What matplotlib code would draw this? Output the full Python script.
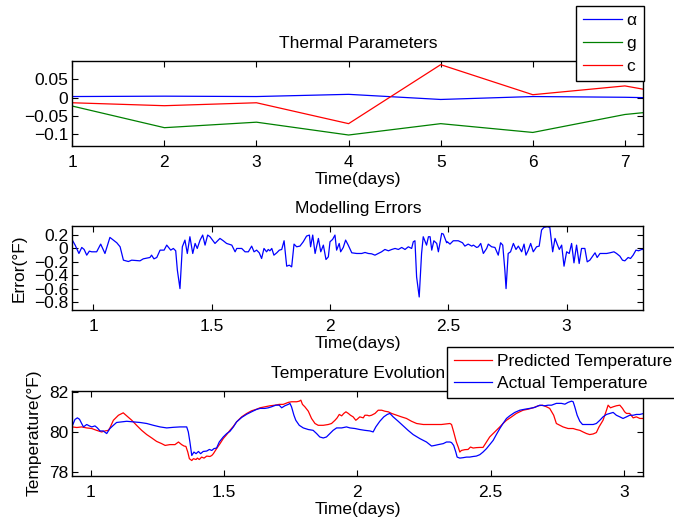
import matplotlib
matplotlib.use("Agg")
import matplotlib.pyplot as plt

plt.rcParams['font.family'] = ['Liberation Sans', 'DejaVu Sans']
plt.rcParams['font.size'] = 12.5

# --- Thermal parameters (per day) ---
dias = [1, 2, 3, 4, 5, 6, 7, 7.2]
alpha = [0.003, 0.004, 0.003, 0.009, -0.005, 0.003, 0.001, 0.0]
g = [-0.023, -0.082, -0.067, -0.102, -0.071, -0.095, -0.046, -0.041]
c = [-0.014, -0.022, -0.014, -0.071, 0.090, 0.008, 0.032, 0.023]

# --- Modelling errors ---
t_err = [0.911, 0.923, 0.939, 0.951, 0.961, 0.972, 0.983, 0.993, 1.014, 1.031,
         1.049, 1.070, 1.099, 1.113, 1.127, 1.148, 1.162, 1.197, 1.211, 1.239,
         1.246, 1.256, 1.268, 1.282, 1.299, 1.310, 1.327, 1.338, 1.348, 1.355,
         1.366, 1.376, 1.387, 1.397, 1.408, 1.420, 1.430, 1.439, 1.451, 1.462,
         1.472, 1.483, 1.493, 1.514, 1.535, 1.549, 1.563, 1.585, 1.599, 1.606,
         1.627, 1.641, 1.655, 1.669, 1.679, 1.690, 1.701, 1.711, 1.721, 1.732,
         1.739, 1.746, 1.754, 1.763, 1.775, 1.786, 1.796, 1.806, 1.817, 1.828,
         1.838, 1.848, 1.859, 1.873, 1.887, 1.901, 1.913, 1.918, 1.927, 1.937,
         1.951, 1.961, 1.972, 1.983, 1.993, 2.000, 2.011, 2.021, 2.028, 2.039,
         2.045, 2.056, 2.066, 2.077, 2.092, 2.113, 2.134, 2.148, 2.162, 2.176,
         2.190, 2.204, 2.218, 2.232, 2.247, 2.261, 2.275, 2.289, 2.303, 2.317,
         2.331, 2.345, 2.352, 2.359, 2.366, 2.377, 2.387, 2.394, 2.408, 2.416,
         2.423, 2.430, 2.439, 2.451, 2.458, 2.472, 2.479, 2.493, 2.496, 2.507,
         2.521, 2.542, 2.560, 2.570, 2.584, 2.599, 2.606, 2.620, 2.627, 2.637,
         2.648, 2.662, 2.669, 2.683, 2.697, 2.711, 2.721, 2.730, 2.739, 2.744,
         2.753, 2.763, 2.775, 2.786, 2.796, 2.810, 2.820, 2.828, 2.838, 2.848,
         2.859, 2.873, 2.884, 2.894, 2.904, 2.918, 2.929, 2.941, 2.951, 2.960,
         2.969, 2.979, 2.989, 3.000, 3.011, 3.021, 3.031, 3.042, 3.053, 3.063,
         3.077, 3.087, 3.098, 3.110, 3.120, 3.129, 3.141, 3.155, 3.169, 3.183,
         3.200, 3.211, 3.225, 3.236, 3.246, 3.260, 3.270, 3.281, 3.293, 3.304,
         3.317, 3.327]
error = [0.125, 0.05, -0.075, 0.015, -0.015, -0.10, -0.04, -0.05, -0.05, 0.065,
         -0.075, 0.165, 0.085, 0.025, -0.175, -0.195, -0.175, -0.185, -0.155, -0.135,
         -0.10, -0.155, -0.135, -0.025, -0.025, 0.05, -0.025, 0.0, -0.035, -0.325,
         -0.60, 0.025, 0.125, -0.075, 0.175, -0.075, 0.075, 0.0, 0.125, 0.20,
         0.05, 0.20, 0.175, 0.075, 0.15, 0.115, 0.075, 0.05, -0.05, 0.0,
         0.0, -0.05, -0.05, 0.035, -0.05, -0.025, -0.065, -0.15, 0.0, -0.05,
         -0.015, -0.035, 0.0, -0.10, -0.065, -0.025, -0.015, 0.115, -0.265, -0.25,
         -0.275, 0.065, 0.025, 0.035, 0.10, 0.185, 0.20, 0.025, 0.20, -0.075,
         0.15, -0.05, 0.05, -0.165, -0.125, 0.10, 0.135, 0.20, -0.025, 0.075,
         -0.05, 0.015, 0.125, 0.05, -0.065, -0.075, -0.075, -0.06, -0.075, -0.08,
         -0.10, -0.075, -0.05, -0.015, -0.035, -0.015, 0.0, -0.015, 0.015, -0.015,
         0.025, 0.0, 0.10, 0.115, -0.425, -0.725, -0.075, 0.175, 0.05, 0.175,
         0.175, -0.025, 0.115, 0.075, -0.05, 0.225, 0.215, 0.085, 0.10, 0.065,
         0.115, 0.115, 0.085, 0.035, 0.065, 0.035, 0.05, 0.015, 0.025, 0.075,
         -0.075, 0.0, 0.065, 0.025, 0.015, -0.10, 0.085, 0.05, -0.325, -0.60,
         -0.075, -0.05, 0.075, -0.015, 0.035, -0.05, 0.065, -0.10, -0.025, 0.075,
         -0.05, 0.025, 0.035, 0.275, 0.315, 0.325, 0.315, -0.05, 0.15, 0.065,
         -0.015, 0.05, -0.265, -0.05, -0.075, 0.075, -0.215, 0.05, -0.225, 0.0,
         0.0, -0.20, -0.175, -0.115, -0.065, -0.135, -0.075, -0.075, -0.075, -0.065,
         -0.05, -0.075, -0.115, -0.175, -0.185, -0.135, -0.15, -0.10, -0.025, -0.035,
         -0.015, -0.015]

# --- Temperature evolution ---
t_pred = [0.931, 0.948, 0.966, 0.985, 1.004, 1.022, 1.041, 1.054, 1.066, 1.072,
          1.085, 1.104, 1.122, 1.135, 1.154, 1.172, 1.191, 1.210, 1.229, 1.247,
          1.266, 1.279, 1.297, 1.316, 1.329, 1.341, 1.350, 1.357, 1.364, 1.370,
          1.379, 1.385, 1.395, 1.400, 1.407, 1.416, 1.425, 1.435, 1.447, 1.454,
          1.460, 1.472, 1.485, 1.497, 1.510, 1.522, 1.535, 1.547, 1.566, 1.585,
          1.603, 1.622, 1.635, 1.653, 1.672, 1.691, 1.707, 1.722, 1.732, 1.741,
          1.753, 1.772, 1.782, 1.788, 1.794, 1.803, 1.816, 1.828, 1.841, 1.853,
          1.872, 1.891, 1.903, 1.916, 1.924, 1.932, 1.941, 1.949, 1.957, 1.966,
          1.974, 1.984, 1.994, 1.999, 2.009, 2.022, 2.028, 2.037, 2.044, 2.053,
          2.066, 2.078, 2.091, 2.103, 2.116, 2.128, 2.147, 2.165, 2.184, 2.203,
          2.222, 2.247, 2.272, 2.297, 2.315, 2.334, 2.347, 2.353, 2.361, 2.371,
          2.378, 2.384, 2.390, 2.403, 2.415, 2.424, 2.434, 2.446, 2.459, 2.471,
          2.484, 2.496, 2.509, 2.521, 2.534, 2.546, 2.559, 2.578, 2.596, 2.621,
          2.640, 2.659, 2.678, 2.694, 2.709, 2.721, 2.736, 2.746, 2.759, 2.771,
          2.790, 2.809, 2.821, 2.834, 2.846, 2.859, 2.871, 2.884, 2.896, 2.906,
          2.921, 2.934, 2.940, 2.949, 2.959, 2.971, 2.984, 2.994, 3.002, 3.009,
          3.021, 3.034, 3.046, 3.059, 3.074]
temp_pred = [80.25, 80.22, 80.25, 80.20, 80.17, 80.08, 80.00, 80.05, 80.08, 80.20,
             80.58, 80.83, 80.95, 80.80, 80.58, 80.33, 80.08, 79.87, 79.70, 79.53,
             79.42, 79.33, 79.37, 79.37, 79.50, 79.37, 79.30, 79.28, 79.00, 78.67,
             78.58, 78.67, 78.63, 78.70, 78.63, 78.75, 78.70, 78.80, 78.78, 78.83,
             78.92, 79.17, 79.42, 79.67, 79.87, 80.08, 80.28, 80.50, 80.75, 80.92,
             81.05, 81.13, 81.20, 81.25, 81.30, 81.33, 81.37, 81.37, 81.42, 81.47,
             81.50, 81.50, 81.53, 81.58, 81.37, 81.25, 81.03, 80.67, 80.42, 80.33,
             80.33, 80.37, 80.42, 80.58, 80.70, 80.87, 80.80, 80.92, 81.00, 80.92,
             80.83, 80.75, 80.58, 80.63, 80.75, 80.70, 80.83, 80.83, 80.80, 80.83,
             80.92, 81.08, 81.08, 81.03, 81.00, 80.92, 80.83, 80.75, 80.67, 80.53,
             80.42, 80.37, 80.37, 80.37, 80.37, 80.40, 80.42, 80.37, 80.00, 79.50,
             79.25, 79.00, 79.08, 79.12, 79.13, 79.25, 79.20, 79.22, 79.23, 79.23,
             79.50, 79.75, 79.92, 80.08, 80.25, 80.42, 80.58, 80.75, 80.92, 81.08,
             81.13, 81.20, 81.30, 81.33, 81.25, 81.17, 80.83, 80.42, 80.33, 80.25,
             80.17, 80.17, 80.12, 80.08, 80.00, 79.92, 79.87, 79.90, 79.97, 80.25,
             80.58, 81.08, 81.33, 81.20, 81.25, 81.30, 81.33, 81.17, 81.00, 80.92,
             80.92, 80.70, 80.75, 80.67, 80.67]
t_real = [0.931, 0.941, 0.950, 0.958, 0.966, 0.973, 0.985, 0.995, 1.004, 1.016,
          1.025, 1.035, 1.047, 1.060, 1.072, 1.085, 1.097, 1.116, 1.135, 1.160,
          1.185, 1.210, 1.235, 1.260, 1.285, 1.310, 1.335, 1.360, 1.366, 1.372,
          1.379, 1.387, 1.395, 1.404, 1.412, 1.422, 1.435, 1.445, 1.454, 1.462,
          1.472, 1.482, 1.497, 1.510, 1.522, 1.535, 1.547, 1.566, 1.585, 1.603,
          1.622, 1.635, 1.653, 1.666, 1.678, 1.694, 1.707, 1.716, 1.728, 1.741,
          1.747, 1.753, 1.762, 1.769, 1.782, 1.797, 1.816, 1.834, 1.847, 1.859,
          1.872, 1.884, 1.897, 1.909, 1.922, 1.941, 1.959, 1.972, 1.991, 2.009,
          2.028, 2.047, 2.059, 2.069, 2.084, 2.099, 2.112, 2.122, 2.134, 2.153,
          2.172, 2.190, 2.209, 2.234, 2.259, 2.278, 2.290, 2.303, 2.322, 2.334,
          2.347, 2.353, 2.361, 2.369, 2.374, 2.384, 2.396, 2.409, 2.421, 2.434,
          2.446, 2.459, 2.471, 2.484, 2.496, 2.509, 2.521, 2.534, 2.546, 2.559,
          2.571, 2.590, 2.609, 2.628, 2.646, 2.665, 2.684, 2.703, 2.715, 2.728,
          2.746, 2.765, 2.778, 2.790, 2.803, 2.809, 2.815, 2.824, 2.834, 2.844,
          2.859, 2.871, 2.884, 2.896, 2.909, 2.921, 2.934, 2.946, 2.959, 2.971,
          2.984, 2.996, 3.009, 3.021, 3.034, 3.046, 3.059, 3.074]
temp_real = [80.30, 80.62, 80.70, 80.63, 80.42, 80.25, 80.37, 80.30, 80.25, 80.30,
             80.20, 80.05, 80.05, 79.92, 80.17, 80.33, 80.47, 80.50, 80.53, 80.50,
             80.47, 80.42, 80.33, 80.25, 80.20, 80.23, 80.25, 80.25, 80.00, 79.50,
             78.83, 79.00, 78.92, 79.03, 78.92, 79.03, 79.05, 79.13, 79.08, 79.17,
             79.20, 79.50, 79.75, 79.92, 80.03, 80.25, 80.50, 80.72, 80.88, 81.00,
             81.12, 81.17, 81.17, 81.20, 81.25, 81.33, 81.33, 81.20, 81.30, 81.37,
             81.42, 81.25, 80.83, 80.58, 80.33, 80.20, 80.12, 80.08, 79.92, 79.75,
             79.70, 79.75, 79.92, 80.08, 80.20, 80.20, 80.25, 80.20, 80.17, 80.12,
             80.08, 80.05, 80.00, 80.25, 80.53, 80.75, 80.87, 80.92, 80.75, 80.53,
             80.30, 80.08, 79.87, 79.67, 79.50, 79.30, 79.33, 79.37, 79.42, 79.50,
             79.50, 79.47, 79.33, 79.00, 78.75, 78.70, 78.72, 78.75, 78.75, 78.78,
             78.80, 78.87, 79.00, 79.17, 79.37, 79.58, 79.87, 80.17, 80.42, 80.67,
             80.80, 80.97, 81.08, 81.13, 81.17, 81.22, 81.33, 81.30, 81.33, 81.33,
             81.42, 81.42, 81.38, 81.47, 81.53, 81.50, 81.25, 80.83, 80.53, 80.37,
             80.37, 80.37, 80.37, 80.42, 80.58, 80.75, 80.87, 80.92, 80.97, 80.83,
             80.75, 80.67, 80.75, 80.83, 80.83, 80.87, 80.87, 80.92]

dias_ticks = [1, 1.5, 2, 2.5, 3]
dias_labels = ['1', '1.5', '2', '2.5', '3']

W, H = 674, 523
fig = plt.figure(figsize=(W / 100, H / 100), dpi=100)


def caja(top, bottom, left=72.3, right=643.3):
    return [left / W, 1 - bottom / H, (right - left) / W, (bottom - top) / H]


def estilo(ax):
    ax.tick_params(direction='in', top=True, right=True, length=4, width=0.8,
                   labelsize=12.5)
    ax.tick_params(axis='x', pad=6.5)
    ax.tick_params(axis='y', pad=3)
    for s in ax.spines.values():
        s.set_linewidth(1.0)


# Grafico 1
ax1 = fig.add_axes(caja(61, 146))
ax1.plot(dias, alpha, color='blue', lw=0.9, label='α')
ax1.plot(dias, g, color=(0, 0.5, 0), lw=0.9, label='g')
ax1.plot(dias, c, color='red', lw=0.9, label='c')
ax1.set_xlim(1, 7.2)
ax1.set_ylim(-0.132, 0.1)
ax1.set_xticks([1, 2, 3, 4, 5, 6, 7])
ax1.set_yticks([-0.1, -0.05, 0, 0.05])
ax1.set_yticklabels(['\u22120.1', '\u22120.05', '0', '0.05'])
ax1.set_title('Thermal Parameters', fontsize=12.5, pad=9)
ax1.set_xlabel('Time(days)', fontsize=12.5, labelpad=1.5)
estilo(ax1)
leg1 = ax1.legend(loc='upper right', bbox_to_anchor=(643.8 / W, 1 - 5.7 / H),
                  bbox_transform=fig.transFigure, fancybox=False, framealpha=1,
                  edgecolor='black', handlelength=2.2, handletextpad=0.3,
                  labelspacing=0.45, borderpad=0.4, borderaxespad=0)
leg1.get_frame().set_linewidth(1.0)

# Grafico 2
ax2 = fig.add_axes(caja(225.7, 310.3))
ax2.plot(t_err, error, color='blue', lw=0.9)
ax2.set_xlim(0.911, 3.324)
ax2.set_ylim(-0.924, 0.34)
ax2.set_xticks(dias_ticks)
ax2.set_xticklabels(dias_labels)
ax2.set_yticks([-0.8, -0.6, -0.4, -0.2, 0, 0.2])
ax2.set_yticklabels(['\u22120.8', '\u22120.6', '\u22120.4', '\u22120.2', '0', '0.2'])
ax2.set_title('Modelling Errors', fontsize=12.5, pad=9)
ax2.set_xlabel('Time(days)', fontsize=12.5, labelpad=1.5)
ax2.set_ylabel('Error(°F)', fontsize=12.5, labelpad=5)
estilo(ax2)

# Grafico 3
ax3 = fig.add_axes(caja(390.7, 475.5))
ax3.plot(t_pred, temp_pred, color='red', lw=0.9, label='Predicted Temperature')
ax3.plot(t_real, temp_real, color='blue', lw=0.9, label='Actual Temperature')
ax3.set_xlim(0.931, 3.072)
ax3.set_ylim(77.835, 82.05)
ax3.set_xticks(dias_ticks)
ax3.set_xticklabels(dias_labels)
ax3.set_yticks([78, 80, 82])
ax3.set_title('Temperature Evolution', fontsize=12.5, pad=9)
ax3.set_xlabel('Time(days)', fontsize=12.5, labelpad=1.5)
ax3.set_ylabel('Temperature(°F)', fontsize=12.5, labelpad=5)
estilo(ax3)
leg3 = ax3.legend(loc='upper left', bbox_to_anchor=(446.7 / W, 1 - 346.7 / H),
                  bbox_transform=fig.transFigure, fancybox=False, framealpha=1,
                  edgecolor='black', handlelength=2.2, handletextpad=0.3,
                  labelspacing=0.4, borderpad=0.4, borderaxespad=0)
leg3.get_frame().set_linewidth(1.0)

fig.savefig('out.png', dpi=100)
